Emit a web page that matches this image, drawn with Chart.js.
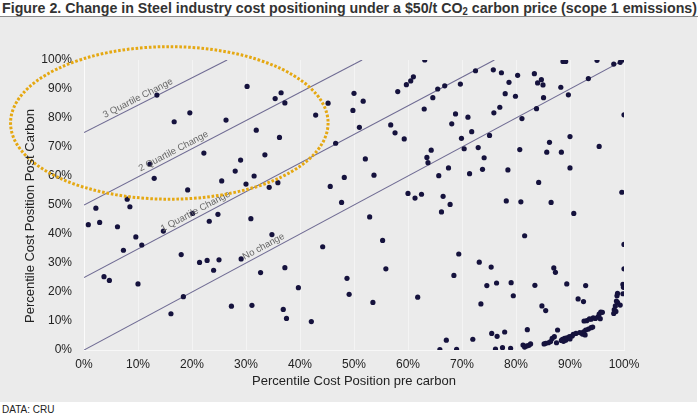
<!DOCTYPE html>
<html><head><meta charset="utf-8">
<script src="https://cdn.jsdelivr.net/npm/chart.js@4.4.1/dist/chart.umd.min.js"></script>
<style>
html,body{margin:0;padding:0;background:#fff;}
#wrap{position:relative;width:698px;height:416px;overflow:hidden;}
#title{position:absolute;left:2px;top:0;height:16px;font-family:'Liberation Sans',Arial,sans-serif;font-weight:bold;font-size:15px;line-height:16px;color:#333;white-space:nowrap;transform-origin:0 0;display:inline-block;}
#title sub{font-size:10px;vertical-align:-2px;line-height:0;}
#rule{position:absolute;left:0;top:16px;width:698px;height:1px;background:#8a8a8a;}
#panel{position:absolute;left:0;top:17px;width:697px;height:385px;background:#ebebeb;}
#src{position:absolute;left:2px;top:404px;font:10px 'Liberation Sans',Arial,sans-serif;color:#222;}
canvas{position:absolute;left:0;top:0;}
</style></head>
<body><div id="wrap"><div id="panel"></div><span id="title">Figure 2. Change in Steel industry cost positioning under a $50/t CO<sub>2</sub> carbon price (scope 1 emissions)</span><div id="rule"></div><div id="src">DATA: CRU</div><canvas id="c" width="698" height="416"></canvas></div>
<script>
// fit the condensed-looking title to the panel width
(function(){const t=document.getElementById('title');const w=t.getBoundingClientRect().width;t.style.transform='scaleX('+(695/w)+')';})();

// Percentile cost position pre carbon (x) and post carbon (y), in %
const preCarbon = [13.5,19.6,16.7,26.3,30.2,31.9,22.2,12.2,29.0,13.0,28.0,31.5,25.5,30.0,19.2,8.0,
2.2,8.5,0.8,2.9,6.2,9.6,10.7,7.3,14.7,20.1,23.2,24.8,30.9,18.0,21.4,22.8,25.0,24.0,29.1,3.7,4.7,10.0,18.4,16.1,27.3,31.1,32.7,
36.5,35.4,37.2,45.2,42.9,50.0,51.7,49.8,36.2,51.0,46.6,33.5,35.9,34.3,48.2,52.1,53.7,45.6,47.7,63.1,61.0,60.5,59.7,58.1,65.5,64.6,63.0,56.8,57.6,59.3,64.3,63.5,63.7,65.7,60.0,61.3,62.5,66.5,66.8,
69.7,72.5,75.8,77.3,80.3,78.7,83.4,84.7,84.0,85.0,88.7,89.2,95.0,98.1,99.3,100,88.3,93.4,89.7,78.0,79.9,85.1,75.9,77.0,83.8,81.1,100,68.8,71.1,68.1,71.8,69.9,75.1,70.4,73.0,74.1,67.5,71.4,73.8,78.5,80.7,86.2,85.7,88.4,90.0,95.4,90.0,84.2,67.8,78.2,80.9,86.5,99.6,
66.2,90.7,81.6,69.4,73.2,75.4,68.5,74.6,76.4,79.1,79.5,83.5,73.5,87.0,87.3,89.4,92.9,84.8,85.5,91.5,92.5,100,100,67.1,69.0,72.0,75.5,76.5,77.9,76.2,77.5,79.0,82.1,81.3,81.6,82.0,82.4,82.7,
99.8,99.9,99.8,98.8,98.7,98.6,98.8,99.3,98.4,98.2,98.5,98.1,95.7,95.4,95.2,94.7,94.3,93.9,93.6,93.1,92.6,87.7,93.9,93.4,92.9,92.5,92.3,92.8,91.1,90.6,90.4,89.9,89.4,89.0,88.6,88.4,89.2,90.0,87.1,86.7,86.4,86.0,85.5,85.2,87.5,
52.9,34.8,44.2,55.3,37.2,39.7,48.7,49.1,55.9,53.5,61.8,36.9,37.5,42.1,65.9,
88.8,91.8,94.2,96.0,95.6];
const postCarbon = [87.9,81.8,78.7,79.3,90.9,75.8,67.9,64.1,65.5,59.2,61.7,60.0,58.3,57.2,55.2,52.0,
48.9,49.4,43.2,44.0,42.5,39.0,36.2,34.4,41.0,47.1,44.4,46.8,45.3,32.9,30.2,30.9,31.1,27.5,31.4,25.3,24.0,22.8,18.4,12.5,15.1,15.4,26.7,
88.7,86.7,85.2,85.1,81.0,88.5,85.8,82.6,73.3,76.8,71.3,67.3,57.7,56.1,59.5,65.9,60.3,56.4,50.9,100,94.2,92.8,91.5,89.1,90.0,87.0,83.1,77.6,74.9,72.8,68.9,66.4,64.6,60.1,54.0,52.4,53.7,53.0,91.1,
91.7,96.3,96.6,95.6,94.7,92.3,95.3,93.2,92.1,91.4,99.5,99.5,99.9,98.6,99.2,100,90.6,93.6,88.0,88.4,87.5,87.0,81.8,83.7,83.2,79.8,81.1,81.4,80.3,78.0,75.3,73.0,74.0,69.4,69.8,66.3,62.8,60.8,62.3,62.1,69.1,71.6,68.2,68.2,73.6,70.2,62.8,57.8,50.2,51.4,51.1,50.9,54.4,
47.6,47.1,39.4,33.1,30.3,28.6,25.7,22.2,23.1,23.2,18.7,22.3,15.9,28.3,26.8,22.8,22.2,15.2,13.6,17.6,16.7,36.4,28.0,3.4,0.2,3.7,5.7,4.7,6.2,0.3,0.8,0.6,7.0,1.7,1.0,1.4,1.6,2.1,
22.6,21.6,19.4,19.5,18.7,16.9,16.4,15.5,15.2,13.9,13.3,12.6,13.1,12.4,11.4,10.9,11.1,10.6,10.7,10.1,10.0,6.9,7.7,7.2,6.9,6.3,5.5,5.2,5.7,5.4,4.8,4.6,4.2,4.0,3.7,3.3,3.4,3.8,4.6,4.0,2.9,2.5,2.3,2.1,2.5,
45.9,39.8,35.6,37.8,28.4,21.5,24.7,19.2,28.0,16.4,18.2,14.0,10.9,9.8,0.1,
3.0,6.0,7.9,13.0,10.8];

// Reference guide lines: start at x=0 (y = start), end at y=100 (x = end)
const guideNames = ['No change','1 Quartile Change','2 Quartile Change','3 Quartile Change'];
const guideStartY = [0, 25, 50, 75];
const guideEndX = [100, 76, 51.5, 26.5];

const xTitle = 'Percentile Cost Position pre carbon';
const yTitle = 'Percentile Cost Position Post Carbon';

const points = preCarbon.map((v,i)=>({x:v, y:postCarbon[i]}));
const lineSets = guideNames.map((n,i)=>({
  type:'line', label:n,
  data:[{x:0,y:guideStartY[i]},{x:guideEndX[i],y:100}],
  borderColor:'#6f6b93', borderWidth:1.1, pointRadius:0, fill:false, tension:0, order:2
}));

const LABEL_AT = [33.8, 21.2, 17.1, 10.5];
const annot = {
  id:'annot',
  afterDatasetsDraw(chart){
    const {ctx, scales:{x,y}, chartArea:ca} = chart;
    ctx.save();
    ctx.font = '9.5px "Liberation Sans", Arial, sans-serif';
    ctx.fillStyle = '#666';
    ctx.textAlign = 'center'; ctx.textBaseline = 'alphabetic';
    guideNames.forEach((name,i)=>{
      const x0=x.getPixelForValue(0), y0=y.getPixelForValue(guideStartY[i]);
      const x1=x.getPixelForValue(guideEndX[i]), y1=y.getPixelForValue(100);
      const ang=Math.atan2(y1-y0,x1-x0);
      const t=LABEL_AT[i]/guideEndX[i];
      ctx.save();
      ctx.translate(x0+(x1-x0)*t, y0+(y1-y0)*t);
      ctx.rotate(ang);
      ctx.fillText(name,0,-3.5);
      ctx.restore();
    });
    const cx=x.getPixelForValue(15.8), cy=y.getPixelForValue(78.3);
    const rx=x.getPixelForValue(15.8+29.4)-cx, ry=cy-y.getPixelForValue(78.3+26.3);
    ctx.beginPath();
    ctx.ellipse(cx,cy,rx,ry,0,0,Math.PI*2);
    ctx.strokeStyle='#e5a812'; ctx.lineWidth=3; ctx.setLineDash([2.6,1.8]);
    ctx.stroke();
    ctx.setLineDash([]);
    ctx.fillStyle='#222';
    ctx.font='13px "Liberation Sans", Arial, sans-serif';
    ctx.textAlign='center'; ctx.textBaseline='middle';
    ctx.fillText(xTitle,(ca.left+ca.right)/2,381);
    ctx.save(); ctx.translate(30,216); ctx.rotate(-Math.PI/2); ctx.fillText(yTitle,0,0); ctx.restore();
    ctx.restore();
  }
};

new Chart(document.getElementById('c'),{
  type:'scatter',
  data:{datasets:[{
    label:'Plants', data:points, backgroundColor:'#15123d', borderWidth:0, pointRadius:2.6, pointHoverRadius:2.6, order:1
  }, ...lineSets]},
  options:{
    responsive:false, animation:false, devicePixelRatio:1,
    layout:{padding:{left:0,top:60,right:74,bottom:0}, autoPadding:false},
    plugins:{legend:{display:false}, tooltip:{enabled:false}},
    scales:{
      x:{type:'linear',min:0,max:100,
        ticks:{stepSize:10,padding:7,color:'#222',font:{family:'"Liberation Sans", Arial, sans-serif',size:12},callback:v=>v+'%'},
        grid:{color:'rgba(255,255,255,0.45)',drawTicks:false},
        border:{color:'rgba(255,255,255,0.6)'},
        afterFit(s){s.height=66;}},
      y:{type:'linear',min:0,max:100,
        ticks:{stepSize:10,padding:12,color:'#222',font:{family:'"Liberation Sans", Arial, sans-serif',size:12},callback:v=>v+'%'},
        grid:{display:false,drawTicks:false},
        border:{color:'rgba(255,255,255,0.6)'},
        afterFit(s){s.width=84;}}
    }
  },
  plugins:[annot]
});
</script></body></html>
